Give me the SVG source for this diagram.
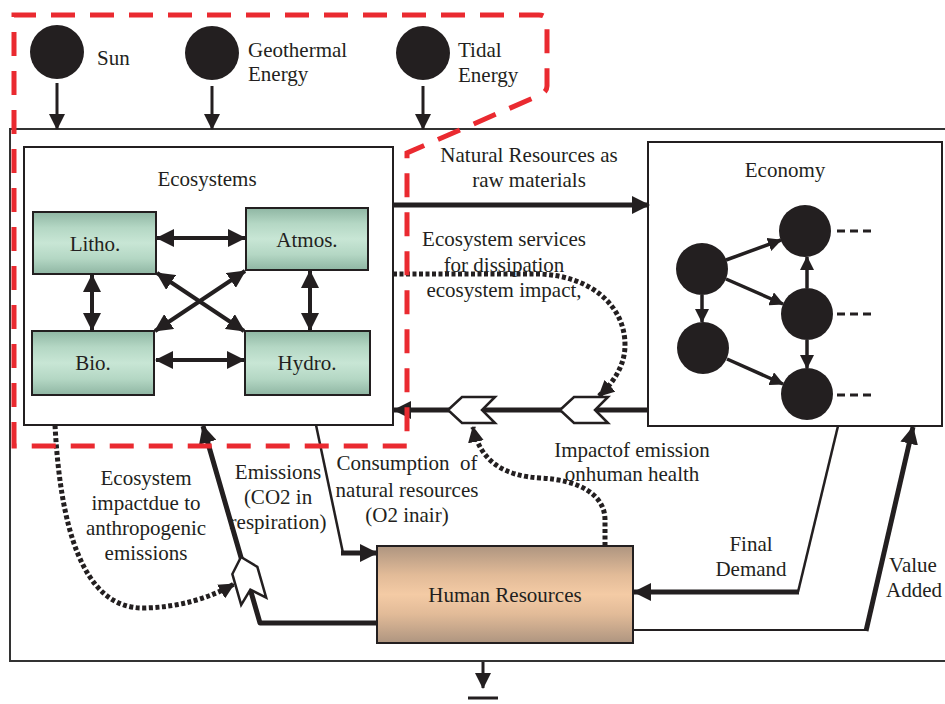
<svg xmlns="http://www.w3.org/2000/svg" width="945" height="704" viewBox="0 0 945 704" font-family="Liberation Serif, Times New Roman, Tinos, DejaVu Serif, serif">
<defs>
<style>
text{font-size:21px;fill:#231f20}
.c{text-anchor:middle}
.box{fill:#fff;stroke:#231f20;stroke-width:2}
.ln{fill:none;stroke:#231f20}
.dot{fill:none;stroke:#231f20;stroke-width:5;stroke-dasharray:4 2.5}
.chev{fill:#fff;stroke:#231f20;stroke-width:2.5;stroke-linejoin:miter}
.node{fill:#231f20}
.red{fill:none;stroke:#ea2a30;stroke-width:5;stroke-dasharray:24 15}
</style>
<linearGradient id="gG" x1="0" y1="0" x2="0" y2="1">
<stop offset="0" stop-color="#8fb6a3"/><stop offset="0.25" stop-color="#b4d7c4"/><stop offset="0.5" stop-color="#c8e6d5"/><stop offset="0.75" stop-color="#b4d7c4"/><stop offset="1" stop-color="#8fb6a3"/>
</linearGradient>
<linearGradient id="gT" x1="0" y1="0" x2="0" y2="1">
<stop offset="0" stop-color="#ae9580"/><stop offset="0.3" stop-color="#e2bb98"/><stop offset="0.5" stop-color="#f4cba5"/><stop offset="0.7" stop-color="#e2bb98"/><stop offset="1" stop-color="#ae9580"/>
</linearGradient>
<marker id="aL" markerUnits="userSpaceOnUse" markerWidth="18" markerHeight="18" refX="17" refY="9" orient="auto-start-reverse"><path d="M0,0 L18,9 L0,18 z" fill="#231f20"/></marker>
<marker id="aM" markerUnits="userSpaceOnUse" markerWidth="16" markerHeight="16" refX="15" refY="8" orient="auto-start-reverse"><path d="M0,0 L16,8 L0,16 z" fill="#231f20"/></marker>
<marker id="aS" markerUnits="userSpaceOnUse" markerWidth="14" markerHeight="14" refX="13" refY="7" orient="auto-start-reverse"><path d="M0,0 L14,7 L0,14 z" fill="#231f20"/></marker>
</defs>
<rect width="945" height="704" fill="#fff"/>

<g id="system-boundary"><rect x="10" y="129" width="950" height="532" fill="none" stroke="#333" stroke-width="2"/></g>

<g id="sun"><circle cx="57" cy="52" r="27" class="node"/><text x="97" y="65">Sun</text></g>
<g id="geothermal"><circle cx="212" cy="53" r="27" class="node"/><text x="248" y="57">Geothermal</text><text x="248" y="81">Energy</text></g>
<g id="tidal"><circle cx="423" cy="53" r="27" class="node"/><text x="458" y="57">Tidal</text><text x="458" y="82">Energy</text></g>

<g id="ecosystems">
<rect x="24" y="147" width="369" height="278" class="box"/>
<text x="207" y="186" class="c">Ecosystems</text>
<g id="litho"><rect x="33" y="212" width="123" height="62" fill="url(#gG)" stroke="#231f20" stroke-width="2"/><text x="95" y="251" class="c">Litho.</text></g>
<g id="atmos"><rect x="246" y="208" width="122" height="62" fill="url(#gG)" stroke="#231f20" stroke-width="2"/><text x="307" y="247" class="c">Atmos.</text></g>
<g id="bio"><rect x="32" y="331" width="122" height="64" fill="url(#gG)" stroke="#231f20" stroke-width="2"/><text x="93" y="370" class="c">Bio.</text></g>
<g id="hydro"><rect x="245" y="331" width="125" height="64" fill="url(#gG)" stroke="#231f20" stroke-width="2"/><text x="307" y="370" class="c">Hydro.</text></g>
</g>

<g id="economy">
<rect x="648" y="142" width="294" height="284" class="box"/>
<text x="785" y="177" class="c">Economy</text>
<circle cx="702" cy="269" r="26" class="node"/>
<circle cx="703" cy="348" r="26" class="node"/>
<circle cx="805" cy="231" r="26" class="node"/>
<circle cx="807" cy="314" r="26" class="node"/>
<circle cx="807" cy="394" r="26" class="node"/>
<g class="ln" stroke-width="3" stroke-dasharray="8 5"><path d="M837,231 H876"/><path d="M837,314 H876"/><path d="M837,395 H876"/></g>
</g>

<g id="human-resources">
<rect x="377" y="546" width="256" height="97" fill="url(#gT)" stroke="#231f20" stroke-width="2"/>
<text x="505" y="602" class="c">Human Resources</text>
</g>

<g id="labels">
<text x="529" y="162" class="c">Natural Resources as</text>
<text x="529" y="187" class="c">raw materials</text>
<text x="504" y="246" class="c">Ecosystem services</text>
<text x="504" y="272" class="c">for dissipation</text>
<text x="504" y="297" class="c">ecosystem impact,</text>
<text x="632" y="457" class="c">Impactof emission</text>
<text x="632" y="481" class="c">onhuman health</text>
<text x="751" y="551" class="c">Final</text>
<text x="751" y="576" class="c">Demand</text>
<text x="913" y="572" class="c">Value</text>
<text x="914" y="597" class="c">Added</text>
<text x="146" y="485" class="c">Ecosystem</text>
<text x="146" y="510" class="c">impactdue to</text>
<text x="146" y="535" class="c">anthropogenic</text>
<text x="146" y="560" class="c">emissions</text>
<text x="278" y="479" class="c">Emissions</text>
<text x="278" y="504" class="c">(CO2 in</text>
<text x="278" y="529" class="c">respiration)</text>
<text x="407" y="470" class="c" xml:space="preserve">Consumption  of</text>
<text x="407" y="497" class="c">natural resources</text>
<text x="407" y="522" class="c">(O2 inair)</text>
</g>

<g id="connectors">
<path d="M57,83 V129" class="ln" stroke-width="3" marker-end="url(#aM)"/>
<path d="M212,86 V129" class="ln" stroke-width="3" marker-end="url(#aM)"/>
<path d="M423,86 V129" class="ln" stroke-width="3" marker-end="url(#aM)"/>
<path d="M157,238 H245" class="ln" stroke-width="4" marker-start="url(#aL)" marker-end="url(#aL)"/>
<path d="M156,360 H244" class="ln" stroke-width="4" marker-start="url(#aL)" marker-end="url(#aL)"/>
<path d="M92,275 V330" class="ln" stroke-width="4" marker-start="url(#aL)" marker-end="url(#aL)"/>
<path d="M310,271 V330" class="ln" stroke-width="4" marker-start="url(#aL)" marker-end="url(#aL)"/>
<path d="M157,273 L244,331" class="ln" stroke-width="4" marker-start="url(#aL)" marker-end="url(#aL)"/>
<path d="M245,271 L155,331" class="ln" stroke-width="4" marker-start="url(#aL)" marker-end="url(#aL)"/>
<path d="M726,260 L781,240" class="ln" stroke-width="3.5" marker-end="url(#aS)"/>
<path d="M726,279 L783,304" class="ln" stroke-width="3.5" marker-end="url(#aS)"/>
<path d="M702,295 V322" class="ln" stroke-width="3.5" marker-end="url(#aS)"/>
<path d="M807,288 V257" class="ln" stroke-width="3.5" marker-end="url(#aS)"/>
<path d="M807,340 V368" class="ln" stroke-width="3.5" marker-end="url(#aS)"/>
<path d="M727,359 L783,384" class="ln" stroke-width="3.5" marker-end="url(#aS)"/>
<path d="M393,205 H649" class="ln" stroke-width="5" marker-end="url(#aL)"/>
<path d="M648,410 H394" class="ln" stroke-width="5" marker-end="url(#aL)"/>
<path d="M448,410 L462,397 H495 L482,410 L495,423 H462 Z" class="chev"/>
<path d="M560,410 L574,397 H608 L595,410 L608,423 H574 Z" class="chev"/>
<path d="M393,274 H540 C590,276 625,305 625,345 C625,365 614,382 599,396" class="dot" marker-end="url(#aM)"/>
<path d="M605,546 V520 C605,495 580,480 540,478 C505,476 480,462 473,427" class="dot" marker-end="url(#aM)"/>
<path d="M377,623 H260 L203,426" class="ln" stroke-width="5" stroke-linejoin="round" marker-end="url(#aL)"/>
<path d="M0,0 L14,-13 H46 L34,0 L46,13 H14 Z" class="chev" transform="translate(241,557) rotate(74)"/>
<path d="M55,425 C60,520 80,610 145,608 C180,607 210,598 234,584" class="dot" marker-end="url(#aM)"/>
<path d="M316,425 L343,553" class="ln" stroke-width="2.5"/>
<path d="M341,553 H377" class="ln" stroke-width="5" marker-end="url(#aL)"/>
<path d="M838,426 L798,592" class="ln" stroke-width="2.5"/>
<path d="M799,592 H634" class="ln" stroke-width="5" marker-end="url(#aL)"/>
<path d="M633,630 H867" class="ln" stroke-width="2"/>
<path d="M866,631 L913,427" class="ln" stroke-width="5" marker-end="url(#aL)"/>
<path d="M483,662 V688" class="ln" stroke-width="3" marker-end="url(#aM)"/>
<path d="M468,698 H498" class="ln" stroke-width="3"/>
</g>

<g id="boundary-red"><path d="M14,446 V15 H539 Q547,15 547,23 V86 Q547,92 540,95 L407,153 V446 Z" class="red"/></g>
</svg>
